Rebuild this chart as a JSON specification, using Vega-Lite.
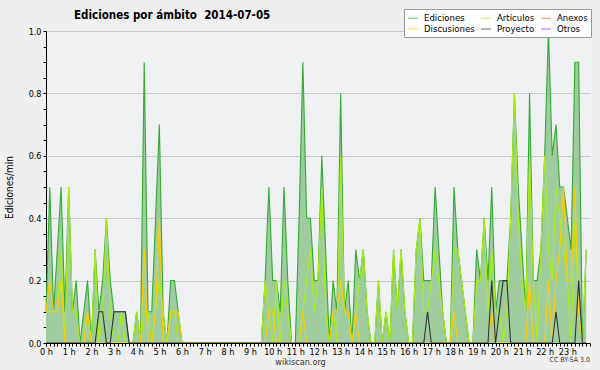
{
"$schema": "https://vega.github.io/schema/vega-lite/v6.json",
"width": 544,
"height": 312,
"autosize": "none",
"padding": {"left": 46, "top": 31, "right": 10, "bottom": 27},
"background": "#efefef",
"config": {
  "view": {"fill": "#eef0f2", "stroke": null},
  "font": "DejaVu Sans Condensed",
  "axis": {"labelFont": "DejaVu Sans Condensed", "titleFont": "DejaVu Sans Condensed", "labelColor": "#000", "titleColor": "#000", "domainColor": "#000", "tickColor": "#000"}
},
"title": {"text": "Ediciones por ámbito\u00a0 2014-07-05", "anchor": "start", "frame": "group", "dx": 28, "offset": 10, "dy": 23, "fontSize": 11.5, "fontWeight": "bold", "font": "DejaVu Sans Condensed", "color": "#000"},
"data": {"values": [
{"m":0,"Ediciones":0.1,"Artículos":0.1,"Discusiones":0.1,"Proyecto":0},
{"m":10,"Ediciones":0.5,"Artículos":0.1,"Discusiones":0.2,"Proyecto":0},
{"m":20,"Ediciones":0.1,"Artículos":0.1,"Discusiones":0.1,"Proyecto":0},
{"m":30,"Ediciones":0.3,"Artículos":0.1,"Discusiones":0.1,"Proyecto":0},
{"m":40,"Ediciones":0.5,"Artículos":0.3,"Discusiones":0.2,"Proyecto":0},
{"m":50,"Ediciones":0.1,"Artículos":0,"Discusiones":0,"Proyecto":0},
{"m":60,"Ediciones":0.5,"Artículos":0.5,"Discusiones":0,"Proyecto":0},
{"m":70,"Ediciones":0.1,"Artículos":0.1,"Discusiones":0,"Proyecto":0},
{"m":80,"Ediciones":0.2,"Artículos":0.1,"Discusiones":0,"Proyecto":0},
{"m":90,"Ediciones":0,"Artículos":0,"Discusiones":0,"Proyecto":0},
{"m":100,"Ediciones":0.1,"Artículos":0,"Discusiones":0,"Proyecto":0},
{"m":110,"Ediciones":0.2,"Artículos":0.1,"Discusiones":0.1,"Proyecto":0},
{"m":120,"Ediciones":0,"Artículos":0,"Discusiones":0,"Proyecto":0},
{"m":130,"Ediciones":0.3,"Artículos":0.3,"Discusiones":0,"Proyecto":0},
{"m":140,"Ediciones":0.1,"Artículos":0,"Discusiones":0,"Proyecto":0.1},
{"m":150,"Ediciones":0.2,"Artículos":0.1,"Discusiones":0,"Proyecto":0.1},
{"m":160,"Ediciones":0.4,"Artículos":0.4,"Discusiones":0,"Proyecto":0},
{"m":170,"Ediciones":0.2,"Artículos":0.1,"Discusiones":0,"Proyecto":0},
{"m":180,"Ediciones":0.1,"Artículos":0,"Discusiones":0,"Proyecto":0.1},
{"m":190,"Ediciones":0.1,"Artículos":0,"Discusiones":0,"Proyecto":0.1},
{"m":200,"Ediciones":0.1,"Artículos":0.1,"Discusiones":0,"Proyecto":0.1},
{"m":210,"Ediciones":0.1,"Artículos":0,"Discusiones":0,"Proyecto":0.1},
{"m":220,"Ediciones":0,"Artículos":0,"Discusiones":0,"Proyecto":0},
{"m":230,"Ediciones":0,"Artículos":0,"Discusiones":0,"Proyecto":0},
{"m":240,"Ediciones":0.1,"Artículos":0.1,"Discusiones":0,"Proyecto":0},
{"m":250,"Ediciones":0,"Artículos":0,"Discusiones":0,"Proyecto":0},
{"m":260,"Ediciones":0.9,"Artículos":0.1,"Discusiones":0.3,"Proyecto":0},
{"m":270,"Ediciones":0.1,"Artículos":0.1,"Discusiones":0,"Proyecto":0},
{"m":280,"Ediciones":0.1,"Artículos":0,"Discusiones":0,"Proyecto":0},
{"m":290,"Ediciones":0.4,"Artículos":0.1,"Discusiones":0.1,"Proyecto":0},
{"m":300,"Ediciones":0.7,"Artículos":0.2,"Discusiones":0.4,"Proyecto":0},
{"m":310,"Ediciones":0.1,"Artículos":0.1,"Discusiones":0,"Proyecto":0},
{"m":320,"Ediciones":0,"Artículos":0,"Discusiones":0,"Proyecto":0},
{"m":330,"Ediciones":0.2,"Artículos":0.1,"Discusiones":0.1,"Proyecto":0},
{"m":340,"Ediciones":0.2,"Artículos":0.1,"Discusiones":0.1,"Proyecto":0},
{"m":350,"Ediciones":0.1,"Artículos":0,"Discusiones":0.1,"Proyecto":0},
{"m":360,"Ediciones":0,"Artículos":0,"Discusiones":0,"Proyecto":0},
{"m":370,"Ediciones":0,"Artículos":0,"Discusiones":0,"Proyecto":0},
{"m":380,"Ediciones":0,"Artículos":0,"Discusiones":0,"Proyecto":0},
{"m":390,"Ediciones":0,"Artículos":0,"Discusiones":0,"Proyecto":0},
{"m":400,"Ediciones":0,"Artículos":0,"Discusiones":0,"Proyecto":0},
{"m":410,"Ediciones":0,"Artículos":0,"Discusiones":0,"Proyecto":0},
{"m":420,"Ediciones":0,"Artículos":0,"Discusiones":0,"Proyecto":0},
{"m":430,"Ediciones":0,"Artículos":0,"Discusiones":0,"Proyecto":0},
{"m":440,"Ediciones":0,"Artículos":0,"Discusiones":0,"Proyecto":0},
{"m":450,"Ediciones":0,"Artículos":0,"Discusiones":0,"Proyecto":0},
{"m":460,"Ediciones":0,"Artículos":0,"Discusiones":0,"Proyecto":0},
{"m":470,"Ediciones":0,"Artículos":0,"Discusiones":0,"Proyecto":0},
{"m":480,"Ediciones":0,"Artículos":0,"Discusiones":0,"Proyecto":0},
{"m":490,"Ediciones":0,"Artículos":0,"Discusiones":0,"Proyecto":0},
{"m":500,"Ediciones":0,"Artículos":0,"Discusiones":0,"Proyecto":0},
{"m":510,"Ediciones":0,"Artículos":0,"Discusiones":0,"Proyecto":0},
{"m":520,"Ediciones":0,"Artículos":0,"Discusiones":0,"Proyecto":0},
{"m":530,"Ediciones":0,"Artículos":0,"Discusiones":0,"Proyecto":0},
{"m":540,"Ediciones":0,"Artículos":0,"Discusiones":0,"Proyecto":0},
{"m":550,"Ediciones":0,"Artículos":0,"Discusiones":0,"Proyecto":0},
{"m":560,"Ediciones":0,"Artículos":0,"Discusiones":0,"Proyecto":0},
{"m":570,"Ediciones":0,"Artículos":0,"Discusiones":0,"Proyecto":0},
{"m":580,"Ediciones":0.2,"Artículos":0.2,"Discusiones":0,"Proyecto":0},
{"m":590,"Ediciones":0.5,"Artículos":0.1,"Discusiones":0.1,"Proyecto":0},
{"m":600,"Ediciones":0.2,"Artículos":0,"Discusiones":0.1,"Proyecto":0},
{"m":610,"Ediciones":0.2,"Artículos":0.2,"Discusiones":0,"Proyecto":0},
{"m":620,"Ediciones":0.1,"Artículos":0,"Discusiones":0,"Proyecto":0},
{"m":630,"Ediciones":0.5,"Artículos":0.2,"Discusiones":0,"Proyecto":0},
{"m":640,"Ediciones":0.2,"Artículos":0.1,"Discusiones":0,"Proyecto":0},
{"m":650,"Ediciones":0,"Artículos":0,"Discusiones":0,"Proyecto":0},
{"m":660,"Ediciones":0,"Artículos":0,"Discusiones":0,"Proyecto":0},
{"m":670,"Ediciones":0.4,"Artículos":0,"Discusiones":0,"Proyecto":0},
{"m":680,"Ediciones":0.9,"Artículos":0.1,"Discusiones":0.1,"Proyecto":0},
{"m":690,"Ediciones":0.4,"Artículos":0.2,"Discusiones":0,"Proyecto":0},
{"m":700,"Ediciones":0.4,"Artículos":0.3,"Discusiones":0,"Proyecto":0},
{"m":710,"Ediciones":0.2,"Artículos":0.1,"Discusiones":0,"Proyecto":0},
{"m":720,"Ediciones":0.2,"Artículos":0.2,"Discusiones":0,"Proyecto":0},
{"m":730,"Ediciones":0.6,"Artículos":0.5,"Discusiones":0,"Proyecto":0},
{"m":740,"Ediciones":0.3,"Artículos":0.1,"Discusiones":0,"Proyecto":0},
{"m":750,"Ediciones":0,"Artículos":0,"Discusiones":0,"Proyecto":0},
{"m":760,"Ediciones":0.2,"Artículos":0.1,"Discusiones":0.1,"Proyecto":0},
{"m":770,"Ediciones":0.1,"Artículos":0,"Discusiones":0.1,"Proyecto":0},
{"m":780,"Ediciones":0.8,"Artículos":0.6,"Discusiones":0.2,"Proyecto":0},
{"m":790,"Ediciones":0.1,"Artículos":0.1,"Discusiones":0.1,"Proyecto":0},
{"m":800,"Ediciones":0.2,"Artículos":0.1,"Discusiones":0.1,"Proyecto":0},
{"m":810,"Ediciones":0,"Artículos":0,"Discusiones":0,"Proyecto":0},
{"m":820,"Ediciones":0.3,"Artículos":0.1,"Discusiones":0.1,"Proyecto":0},
{"m":830,"Ediciones":0.2,"Artículos":0.2,"Discusiones":0,"Proyecto":0},
{"m":840,"Ediciones":0.3,"Artículos":0.3,"Discusiones":0,"Proyecto":0},
{"m":850,"Ediciones":0.1,"Artículos":0.1,"Discusiones":0,"Proyecto":0},
{"m":860,"Ediciones":0,"Artículos":0,"Discusiones":0,"Proyecto":0},
{"m":870,"Ediciones":0,"Artículos":0,"Discusiones":0,"Proyecto":0},
{"m":880,"Ediciones":0.2,"Artículos":0.2,"Discusiones":0,"Proyecto":0},
{"m":890,"Ediciones":0,"Artículos":0,"Discusiones":0,"Proyecto":0},
{"m":900,"Ediciones":0.1,"Artículos":0.1,"Discusiones":0,"Proyecto":0},
{"m":910,"Ediciones":0,"Artículos":0,"Discusiones":0,"Proyecto":0},
{"m":920,"Ediciones":0.3,"Artículos":0.3,"Discusiones":0,"Proyecto":0},
{"m":930,"Ediciones":0.1,"Artículos":0.1,"Discusiones":0,"Proyecto":0},
{"m":940,"Ediciones":0.3,"Artículos":0.3,"Discusiones":0,"Proyecto":0},
{"m":950,"Ediciones":0.1,"Artículos":0.1,"Discusiones":0,"Proyecto":0},
{"m":960,"Ediciones":0,"Artículos":0,"Discusiones":0,"Proyecto":0},
{"m":970,"Ediciones":0,"Artículos":0,"Discusiones":0,"Proyecto":0},
{"m":980,"Ediciones":0.3,"Artículos":0.3,"Discusiones":0,"Proyecto":0},
{"m":990,"Ediciones":0.4,"Artículos":0.4,"Discusiones":0,"Proyecto":0},
{"m":1000,"Ediciones":0.2,"Artículos":0.1,"Discusiones":0,"Proyecto":0},
{"m":1010,"Ediciones":0.2,"Artículos":0.1,"Discusiones":0,"Proyecto":0.1},
{"m":1020,"Ediciones":0.2,"Artículos":0.2,"Discusiones":0,"Proyecto":0},
{"m":1030,"Ediciones":0.5,"Artículos":0.3,"Discusiones":0,"Proyecto":0},
{"m":1040,"Ediciones":0.3,"Artículos":0.2,"Discusiones":0,"Proyecto":0},
{"m":1050,"Ediciones":0.1,"Artículos":0.1,"Discusiones":0,"Proyecto":0},
{"m":1060,"Ediciones":0,"Artículos":0,"Discusiones":0,"Proyecto":0},
{"m":1070,"Ediciones":0,"Artículos":0,"Discusiones":0,"Proyecto":0},
{"m":1080,"Ediciones":0.5,"Artículos":0.3,"Discusiones":0.1,"Proyecto":0},
{"m":1090,"Ediciones":0.3,"Artículos":0.3,"Discusiones":0,"Proyecto":0},
{"m":1100,"Ediciones":0.2,"Artículos":0.2,"Discusiones":0,"Proyecto":0},
{"m":1110,"Ediciones":0.1,"Artículos":0.1,"Discusiones":0,"Proyecto":0},
{"m":1120,"Ediciones":0,"Artículos":0,"Discusiones":0,"Proyecto":0},
{"m":1130,"Ediciones":0,"Artículos":0,"Discusiones":0,"Proyecto":0},
{"m":1140,"Ediciones":0.3,"Artículos":0.2,"Discusiones":0,"Proyecto":0},
{"m":1150,"Ediciones":0.2,"Artículos":0.2,"Discusiones":0,"Proyecto":0},
{"m":1160,"Ediciones":0.4,"Artículos":0.4,"Discusiones":0,"Proyecto":0},
{"m":1170,"Ediciones":0.2,"Artículos":0.1,"Discusiones":0,"Proyecto":0},
{"m":1180,"Ediciones":0.5,"Artículos":0.3,"Discusiones":0.1,"Proyecto":0.2},
{"m":1190,"Ediciones":0.1,"Artículos":0.1,"Discusiones":0,"Proyecto":0},
{"m":1200,"Ediciones":0.2,"Artículos":0.1,"Discusiones":0,"Proyecto":0.1},
{"m":1210,"Ediciones":0.2,"Artículos":0,"Discusiones":0,"Proyecto":0.2},
{"m":1220,"Ediciones":0.2,"Artículos":0.1,"Discusiones":0,"Proyecto":0.2},
{"m":1230,"Ediciones":0.4,"Artículos":0.4,"Discusiones":0,"Proyecto":0},
{"m":1240,"Ediciones":0.8,"Artículos":0.8,"Discusiones":0,"Proyecto":0},
{"m":1250,"Ediciones":0.5,"Artículos":0.4,"Discusiones":0,"Proyecto":0},
{"m":1260,"Ediciones":0.3,"Artículos":0.2,"Discusiones":0,"Proyecto":0},
{"m":1270,"Ediciones":0.1,"Artículos":0.1,"Discusiones":0,"Proyecto":0},
{"m":1280,"Ediciones":0.8,"Artículos":0.6,"Discusiones":0.2,"Proyecto":0},
{"m":1290,"Ediciones":0.2,"Artículos":0.2,"Discusiones":0,"Proyecto":0},
{"m":1300,"Ediciones":0.2,"Artículos":0,"Discusiones":0,"Proyecto":0},
{"m":1310,"Ediciones":0.3,"Artículos":0.3,"Discusiones":0,"Proyecto":0},
{"m":1320,"Ediciones":0.6,"Artículos":0.6,"Discusiones":0,"Proyecto":0},
{"m":1330,"Ediciones":1.0,"Artículos":0.3,"Discusiones":0.2,"Proyecto":0},
{"m":1340,"Ediciones":0.6,"Artículos":0.2,"Discusiones":0,"Proyecto":0},
{"m":1350,"Ediciones":0.7,"Artículos":0.5,"Discusiones":0.2,"Proyecto":0.1},
{"m":1360,"Ediciones":0.5,"Artículos":0.4,"Discusiones":0.3,"Proyecto":0},
{"m":1370,"Ediciones":0.5,"Artículos":0.3,"Discusiones":0.5,"Proyecto":0},
{"m":1380,"Ediciones":0.4,"Artículos":0.2,"Discusiones":0.2,"Proyecto":0},
{"m":1390,"Ediciones":0.3,"Artículos":0,"Discusiones":0.2,"Proyecto":0},
{"m":1400,"Ediciones":0.9,"Artículos":0.4,"Discusiones":0.5,"Proyecto":0},
{"m":1410,"Ediciones":0.9,"Artículos":0.1,"Discusiones":0.1,"Proyecto":0.2},
{"m":1420,"Ediciones":0,"Artículos":0,"Discusiones":0,"Proyecto":0},
{"m":1430,"Ediciones":0.3,"Artículos":0.3,"Discusiones":0,"Proyecto":0}
]},
"layer": [
  {
    "mark": {"type": "area", "color": "#9fcc9f", "interpolate": "linear"},
    "encoding": {
      "x": {"field": "m", "type": "quantitative", "scale": {"domain": [0, 1440], "nice": false},
        "axis": {"values": [0,10,20,30,40,50,60,70,80,90,100,110,120,130,140,150,160,170,180,190,200,210,220,230,240,250,260,270,280,290,300,310,320,330,340,350,360,370,380,390,400,410,420,430,440,450,460,470,480,490,500,510,520,530,540,550,560,570,580,590,600,610,620,630,640,650,660,670,680,690,700,710,720,730,740,750,760,770,780,790,800,810,820,830,840,850,860,870,880,890,900,910,920,930,940,950,960,970,980,990,1000,1010,1020,1030,1040,1050,1060,1070,1080,1090,1100,1110,1120,1130,1140,1150,1160,1170,1180,1190,1200,1210,1220,1230,1240,1250,1260,1270,1280,1290,1300,1310,1320,1330,1340,1350,1360,1370,1380,1390,1400,1410,1420,1430,1440],
          "tickCount": 200,
          "labelExpr": "datum.value % 60 === 0 && datum.value < 1440 ? (datum.value / 60) + ' h' : ''",
          "labelOverlap": false, "labelFlush": false, "labelBound": false,
          "grid": false, "tickSize": 3, "labelPadding": 1, "labelFontSize": 9,
          "title": "wikiscan.org", "titleFontSize": 9, "titleFontWeight": "normal", "titleColor": "#333", "titlePadding": 1, "titleX": 254, "titleAlign": "center",
          "zindex": 1}},
      "y": {"field": "Ediciones", "type": "quantitative", "scale": {"domain": [0, 1], "nice": false},
        "axis": {"values": [0,0.05,0.1,0.15,0.2,0.25,0.3,0.35,0.4,0.45,0.5,0.55,0.6,0.65,0.7,0.75,0.8,0.85,0.9,0.95,1],
          "tickCount": 50,
          "labelExpr": "abs(datum.value * 5 - round(datum.value * 5)) < 0.01 ? format(datum.value, '.1f') : ''",
          "labelOverlap": false, "labelFontSize": 9, "tickSize": 3, "labelPadding": 2,
          "grid": true, "gridColor": "#c8c8c8",
          "gridOpacity": {"condition": {"test": "abs(datum.value * 5 - round(datum.value * 5)) < 0.01 && datum.value > 0.01", "value": 1}, "value": 0},
          "title": "Ediciones/min", "titleFontSize": 10, "titleFontWeight": "normal", "titlePadding": 14}}
    }
  },
  {
    "transform": [{"fold": ["Ediciones", "Artículos", "Discusiones", "Proyecto"], "as": ["serie", "v"]}],
    "mark": {"type": "line", "strokeWidth": 1.1, "interpolate": "linear"},
    "encoding": {
      "x": {"field": "m", "type": "quantitative"},
      "y": {"field": "v", "type": "quantitative"},
      "color": {"field": "serie", "type": "nominal",
        "scale": {"domain": ["Ediciones", "Artículos", "Anexos", "Discusiones", "Proyecto", "Otros"],
                  "range": ["#33aa33", "#aaee11", "#ff6622", "#ffcc00", "#333333", "#8833ff"]},
        "legend": {"orient": "none", "legendX": 358, "legendY": -22, "direction": "horizontal", "columns": 3,
          "title": null, "symbolType": "stroke", "symbolSize": 100, "symbolStrokeWidth": 1.2, "symbolOpacity": 0.6,
          "labelFontSize": 9.5, "labelFont": "DejaVu Sans Condensed", "labelColor": "#000", "labelOffset": 5,
          "fillColor": "#ffffff", "strokeColor": "#999999", "padding": 3, "rowPadding": 0, "columnPadding": 3}}
    }
  },
  {
    "data": {"values": [{"t": "CC BY-SA 3.0"}]},
    "mark": {"type": "text", "align": "right", "baseline": "top", "dy": 13, "fontSize": 7, "color": "#333", "font": "DejaVu Sans Condensed"},
    "encoding": {
      "x": {"datum": 1440, "type": "quantitative"},
      "y": {"datum": 0, "type": "quantitative"},
      "text": {"field": "t"}
    }
  }
]
}
